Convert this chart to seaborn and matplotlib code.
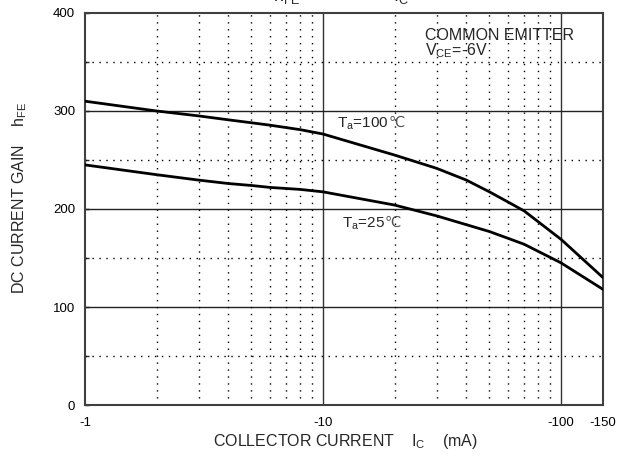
import numpy as np
import pandas as pd
import seaborn as sns
import matplotlib
matplotlib.use("Agg")
import matplotlib.pyplot as plt
from matplotlib.ticker import FixedLocator, NullFormatter

# Collector current magnitude (mA) at which the gain was read
ic_ma = [1, 2, 3, 4, 5, 6, 8, 10, 20, 30, 40, 50, 60, 70, 100, 150]
# DC current gain hFE for each ambient temperature
hfe_100c = [310, 300, 295, 291, 288, 285.5, 281, 276.5, 255, 241.5, 229.5, 217.5, 207, 198, 169, 130]
hfe_25c = [245, 235, 229.5, 226, 224, 222, 220, 217.5, 204, 193, 184, 177, 170, 164, 145, 118]

x_tick_values = [1, 10, 100, 150]
x_tick_labels = ["-1", "-10", "-100", "-150"]
y_tick_values = [0, 100, 200, 300, 400]
x_minor = [2, 3, 4, 5, 6, 7, 8, 9, 20, 30, 40, 50, 60, 70, 80, 90]
y_minor = [50, 150, 250, 350]

sns.set_theme(style="white")
plt.rcParams["font.family"] = ["Liberation Sans", "DejaVu Sans"]
plt.rcParams["mathtext.default"] = "regular"

df = pd.concat([
    pd.DataFrame({"ic": ic_ma, "hfe": hfe_100c, "ta": "100"}),
    pd.DataFrame({"ic": ic_ma, "hfe": hfe_25c, "ta": "25"}),
])

W, H = 633, 459
fig = plt.figure(figsize=(W / 100, H / 100), dpi=100)
ax = fig.add_axes([85 / W, 1 - 405 / H, (603 - 85) / W, (405 - 13) / H])

sns.lineplot(data=df, x="ic", y="hfe", hue="ta", palette=["black", "black"],
             linewidth=2.0, legend=False, ax=ax, sort=True, zorder=5)

ax.set_xscale("log")
ax.set_xlim(1, 150)
ax.set_ylim(0, 400)

ax.xaxis.set_major_locator(FixedLocator(x_tick_values))
ax.set_xticklabels(x_tick_labels)
ax.xaxis.set_minor_locator(FixedLocator(x_minor))
ax.xaxis.set_minor_formatter(NullFormatter())
ax.yaxis.set_major_locator(FixedLocator(y_tick_values))
ax.yaxis.set_minor_locator(FixedLocator(y_minor))

# Solid major grid, dotted minor grid
for v in [10, 100]:
    ax.axvline(v, color="#333333", lw=1.0, zorder=2)
for v in [100, 200, 300]:
    ax.axhline(v, color="#222222", lw=1.0, zorder=2)
for v in x_minor:
    ax.axvline(v, color="black", lw=1.0, ls=(0, (1, 4)), zorder=2)
for v in y_minor:
    ax.axhline(v, color="black", lw=1.0, ls=(0, (1, 4)), zorder=2)

for s in ax.spines.values():
    s.set_color("#404040")
    s.set_linewidth(1.5)
    s.set_visible(True)

ax.tick_params(axis="x", which="both", length=0, pad=9, labelsize=9.5, colors="black")
ax.tick_params(axis="y", which="major", direction="in", length=3, width=1, pad=7,
               labelsize=9.5, colors="black", left=True)
ax.tick_params(axis="y", which="minor", direction="in", length=3, width=1, left=True)
ax.set_xlabel("")
ax.set_ylabel("")

# Axis titles
fig.text(345 / W, 1 - 446 / H, "COLLECTOR CURRENT    I$_C$    (mA)",
         fontsize=11.5, ha="center", va="baseline")
fig.text(20 / W, 1 - 198 / H, "DC CURRENT GAIN    h$_{FE}$",
         fontsize=11.5, ha="center", va="center", rotation=90)

# Test condition note
ax.text(26.9, 372.5, "COMMON EMITTER", fontsize=11.5, va="baseline", ha="left")
ax.text(26.9, 357, "V$_{CE}$=-6V", fontsize=11.5, va="baseline", ha="left")


def temp_label(x, y, value):
    t = ax.text(x, y, "T$_a$=" + value, fontsize=11, va="baseline", ha="left")
    ax.annotate("℃", xy=(1, y), xycoords=(t, "data"), fontsize=10.5,
                va="baseline", ha="left", color="#555555",
                family="DejaVu Sans")


temp_label(11.45, 283.5, "100")
temp_label(12.0, 181.5, "25")

# Chart heading sitting mostly above the canvas edge
head_y = 1 - 1 / H
fig.text(273 / W, head_y, "h$_{FE}$", fontsize=13, ha="left", va="baseline")
fig.text(393 / W, head_y, "I$_C$", fontsize=13, ha="left", va="baseline")

fig.savefig("out.png", dpi=100)
